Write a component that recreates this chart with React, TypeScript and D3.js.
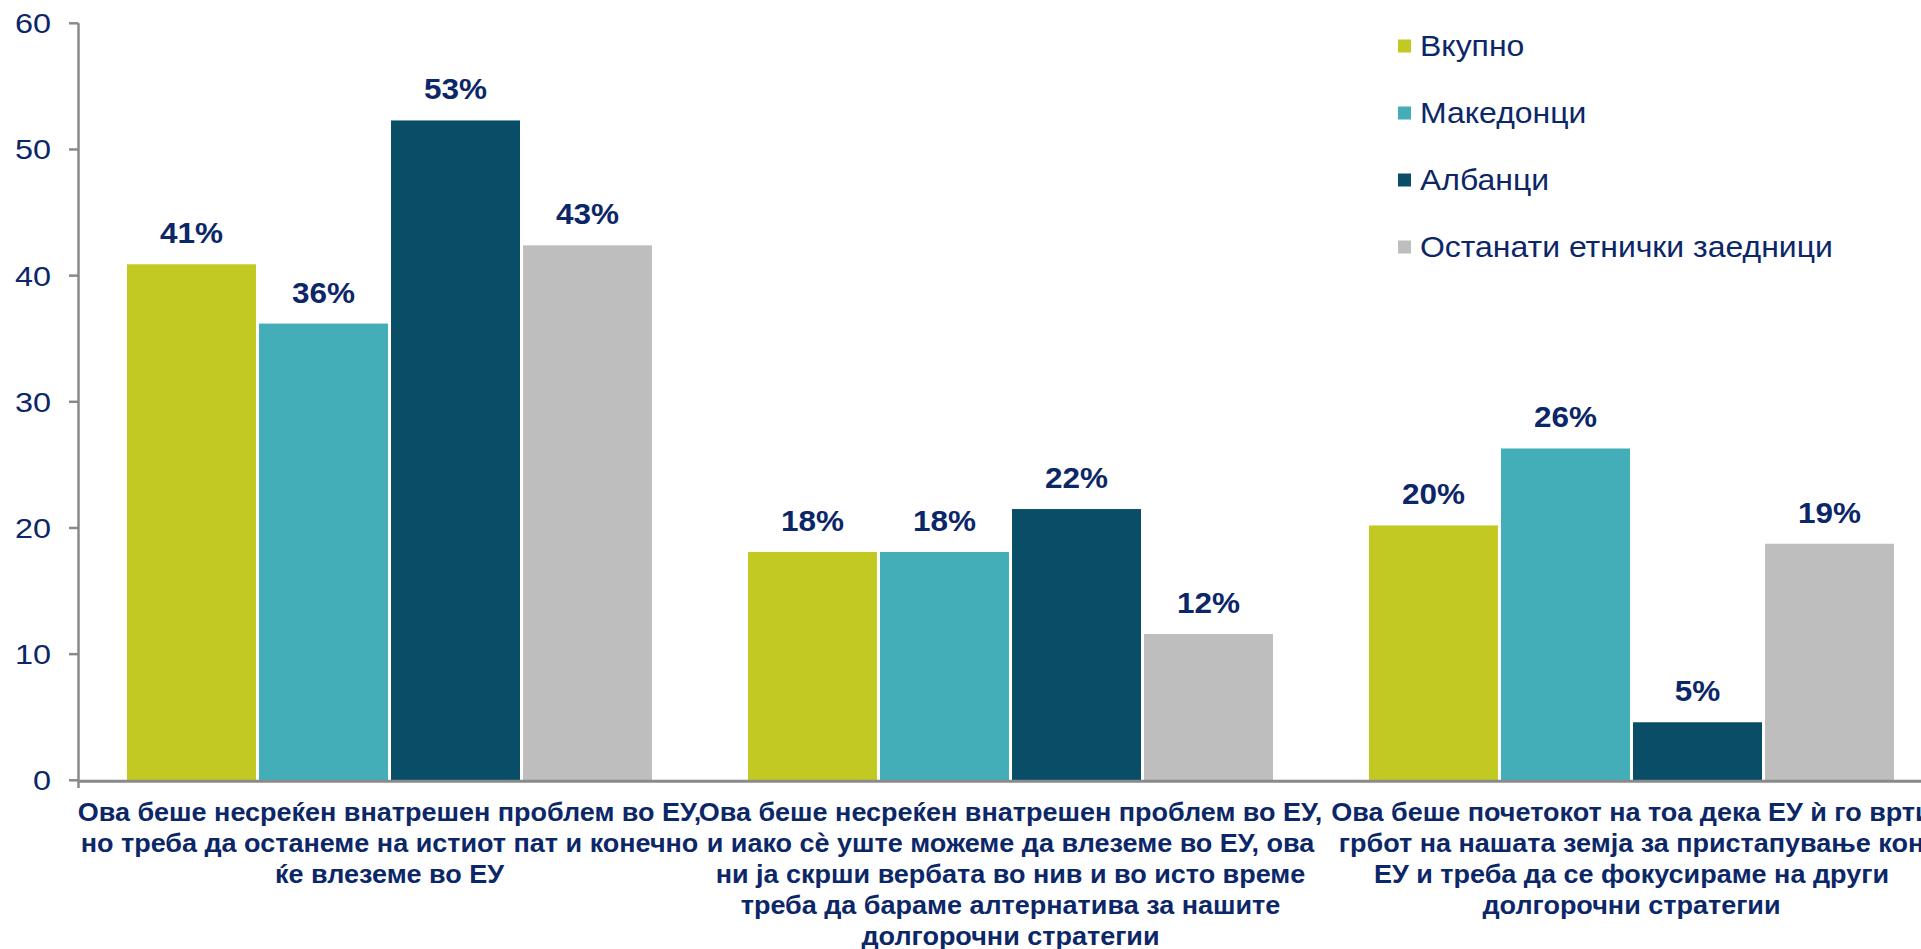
import React from 'react';
import * as d3 from 'd3';

const categories = ['cat1', 'cat2', 'cat3'];
const categoryLines: string[][] = [
  [
    'Ова беше несреќен внатрешен проблем во ЕУ,',
    'но треба да останеме на истиот пат и конечно',
    'ќе влеземе во ЕУ',
  ],
  [
    'Ова беше несреќен внатрешен проблем во ЕУ,',
    'и иако сѐ уште можеме да влеземе во ЕУ, ова',
    'ни ја скрши вербата во нив и во исто време',
    'треба да бараме алтернатива за нашите',
    'долгорочни стратегии',
  ],
  [
    'Ова беше почетокот на тоа дека ЕУ ѝ го врти',
    'грбот на нашата земја за пристапување кон',
    'ЕУ и треба да се фокусираме на други',
    'долгорочни стратегии',
  ],
];

const seriesNames = ['Вкупно', 'Македонци', 'Албанци', 'Останати етнички заедници'];
const seriesColors = ['#c3c923', '#43aeb7', '#0a4d66', '#bebebe'];

const vkupno = [40.9, 18.1, 20.2];
const makedonci = [36.2, 18.1, 26.3];
const albanci = [52.3, 21.5, 4.6];
const ostanati = [42.4, 11.6, 18.75];

const vkupnoLabels = ['41%', '18%', '20%'];
const makedonciLabels = ['36%', '18%', '26%'];
const albanciLabels = ['53%', '22%', '5%'];
const ostanatiLabels = ['43%', '12%', '19%'];

const yTicks = [0, 10, 20, 30, 40, 50, 60];

const W = 1921;
const H = 949;
const NAVY = '#0c2768';
const AXIS = '#8a8a8a';
const FONT = "'Liberation Sans', Arial, sans-serif";

export default function App() {
  const seriesValues = [vkupno, makedonci, albanci, ostanati];
  const seriesLabels = [vkupnoLabels, makedonciLabels, albanciLabels, ostanatiLabels];

  const axisX = 78.5;
  const x0 = d3
    .scaleBand<string>()
    .domain(categories)
    .range([79, 1942])
    .paddingInner(0.1546)
    .paddingOuter(0.0773);
  const x1 = d3
    .scaleBand<string>()
    .domain(seriesNames)
    .range([0, x0.bandwidth()])
    .paddingInner(0.023);
  const y = d3.scaleLinear().domain([0, 60]).range([780.3, 23.3]);

  return (
    <svg
      width={W}
      height={H}
      style={{ position: 'absolute', left: 0, top: 0, background: '#fff' }}
      fontFamily={FONT}
    >
      <rect x={0} y={0} width={W} height={H} fill="#fff" />
      {/* bars */}
      {categories.map((c, ci) => (
        <g key={c} transform={`translate(${x0(c)},0)`}>
          {seriesNames.map((s, si) => {
            const v = seriesValues[si][ci];
            const bx = x1(s)!;
            const by = y(v);
            return (
              <g key={s}>
                <rect
                  x={bx}
                  y={by}
                  width={x1.bandwidth()}
                  height={y(0) - by}
                  fill={seriesColors[si]}
                />
                <text
                  transform={`translate(${bx + x1.bandwidth() / 2},${by - 21}) scale(1.05,1)`}
                  textAnchor="middle"
                  fontSize={30}
                  fontWeight="bold"
                  fill={NAVY}
                >
                  {seriesLabels[si][ci]}
                </text>
              </g>
            );
          })}
        </g>
      ))}
      {/* y axis */}
      <line x1={axisX} x2={axisX} y1={y(60)} y2={788} stroke={AXIS} strokeWidth={2.5} />
      {yTicks.map((t) => (
        <g key={t}>
          <line x1={69} x2={axisX} y1={y(t)} y2={y(t)} stroke={AXIS} strokeWidth={2.5} />
          <text
            transform={`translate(51,${y(t) + 10}) scale(1.2,1)`}
            textAnchor="end"
            fontSize={27}
            fill={NAVY}
          >
            {t}
          </text>
        </g>
      ))}
      {/* x axis */}
      <line x1={axisX - 1} x2={W} y1={y(0) + 1} y2={y(0) + 1} stroke={AXIS} strokeWidth={3} />
      {/* category labels */}
      {categories.map((c, ci) => (
        <g key={c} transform={`translate(${x0(c)! + x0.bandwidth() / 2},0) scale(1.08,1)`}>
          <text textAnchor="middle" fontSize={25} fontWeight="bold" fill={NAVY}>
            {categoryLines[ci].map((line, li) => (
              <tspan key={li} x={0} y={821 + li * 31}>
                {line}
              </tspan>
            ))}
          </text>
        </g>
      ))}
      {/* legend */}
      {seriesNames.map((s, si) => (
        <g key={s} transform={`translate(1398,${46 + si * 67})`}>
          <rect x={0} y={-6.5} width={13} height={13} fill={seriesColors[si]} />
          <text transform="translate(22,10) scale(1.065,1)" fontSize={30} fill={NAVY}>
            {s}
          </text>
        </g>
      ))}
    </svg>
  );
}
